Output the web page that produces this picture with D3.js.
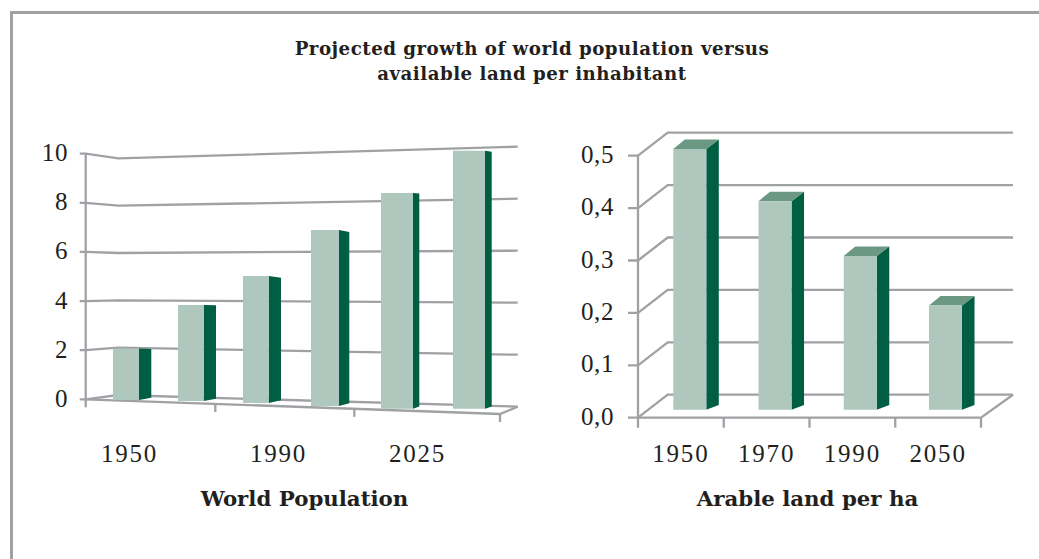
<!DOCTYPE html>
<html><head><meta charset="utf-8">
<script src="https://cdn.jsdelivr.net/npm/d3@7"></script>
<style>html,body{margin:0;padding:0;background:#fff}svg{display:block}
text{fill:#231f20}
.tick{font-family:"Liberation Serif";font-size:25px;font-weight:400;letter-spacing:1.8px}
.ytick{font-family:"Liberation Serif";font-size:25px;font-weight:400;letter-spacing:.6px}
.ttl{font-family:"DejaVu Serif";font-size:18.2px;font-weight:700;letter-spacing:.5px}
.sub{font-family:"DejaVu Serif";font-size:21.3px;font-weight:700}
</style></head><body>
<svg id="c" width="1039" height="559"></svg>
<script>
const titleLines=["Projected growth of world population versus","available land per inhabitant"];
const popBars=["1950","1970","1990","2010","2025","2050"];
const popValues=[2.08,3.84,5.04,6.93,8.43,10.0];
const popLabels=["1950","1990","2025"];
const popTicks=[0,2,4,6,8,10];
const popTitle="World Population";
const landCats=["1950","1970","1990","2050"];
const landValues=[0.5,0.4,0.295,0.2];
const landTicks=[0,0.1,0.2,0.3,0.4,0.5];
const landTitle="Arable land per ha";

const GRID="#a0a1a5",FRONT="#afc8be",SIDE="#005e43",TOP="#6a9883";
const svg=d3.select("#c");
const line=(pts,w=2.3)=>svg.append("path").attr("d",d3.line()(pts)).attr("fill","none").attr("stroke",GRID).attr("stroke-width",w);
const poly=(pts,f)=>svg.append("path").attr("d",d3.line()(pts)+"Z").attr("fill",f);
const label=(x,y,t,a,c)=>svg.append("text").attr("x",x).attr("y",y).attr("text-anchor",a).attr("class",c).text(t);

// frame
svg.append("path").attr("d","M11.5,559V12.5H1039").attr("fill","none").attr("stroke","#a0a1a5").attr("stroke-width",3);
// title
titleLines.forEach((t,i)=>label(532,55+i*25,t,"middle","ttl"));

// ---- left chart
const idx=popBars.map((_,i)=>i);
const yFront=d3.scaleLinear().domain([0,10]).range([399.3,153.7]);
const yWallL=d3.scaleLinear().domain([0,10]).range([395,158.3]);
const yWallR=d3.scaleLinear().domain([0,10]).range([406.7,146.7]);
const LX=85.7,WX=118.3,RX=517.7,FX=500;
popTicks.forEach(v=>{
  line([[LX-6,yFront(v)],[LX,yFront(v)],[WX,yWallL(v)],[RX,yWallR(v)]]);
  label(68,yFront(v)+7.5,v,"end","ytick");
});
line([[LX,yFront(10)],[LX,yFront(0)+8]]);
line([[LX,yFront(0)],[FX,414],[RX,yWallR(0)]]);
const floorY=d3.scaleLinear().domain([LX,FX]).range([399.3,414]);
const popAxis=d3.scaleLinear().domain([0,1,2,3]).range([LX,215.3,354.3,FX]);
[1,2,3].forEach(k=>{const x=popAxis(k);line([[x,floorY(x)],[x,floorY(x)+8]]);});
const barL=d3.scaleLinear().domain(idx).range([113,178,243,311,381,453]);
const barW=d3.scaleLinear().domain(idx).range([26,25.7,25.7,28,32,32]);
const barD=d3.scaleLinear().domain(idx).range([12.3,12.3,12.3,10.3,6.3,6.7]);
const barB=d3.scaleLinear().domain(idx).range([400,401,403,406,408.7,408.7]);
const unit=d3.scaleLinear().domain([0,5]).range([24.8,25.8]);
const sideT=d3.scaleLinear().domain(idx).range([.7,.3,1.7,2,.7,1]);
const sideB=d3.scaleLinear().domain(idx).range([2.3,2.3,2.7,2.7,2.3,2.3]);
popValues.forEach((v,i)=>{
  const x0=barL(i),x1=x0+barW(i),x2=x1+barD(i),b=barB(i),t=b-v*unit(i);
  poly([[x1,t],[x2,t+sideT(i)],[x2,b-sideB(i)],[x1,b]],SIDE);
  poly([[x0,t],[x1,t],[x1,b],[x0,b]],FRONT);
});
const popLabelX=d3.scaleLinear().domain([0,1,2]).range([129.5,278.5,417.5]);
popLabels.forEach((t,i)=>label(popLabelX(i),462,t,"middle","tick"));
label(304.5,505.5,popTitle,"middle","sub");

// ---- right chart
const L2=638,R2=981,DX=29.7,DY=23,BackR=1013;
const y2=d3.scaleLinear().domain([0,0.5]).range([417.7,155.7]);
landTicks.forEach(v=>{
  line([[L2-10,y2(v)],[L2,y2(v)],[L2+DX,y2(v)-DY],[BackR,y2(v)-DY]]);
  label(614,y2(v)+7,v.toFixed(1).replace(".",","),"end","ytick");
});
line([[L2,y2(.5)],[L2,y2(0)+10]]);
line([[L2,y2(0)],[R2,y2(0)],[BackR,y2(0)-DY]]);
const x2=d3.scaleLinear().domain([0,4]).range([L2,R2]);
[1,2,3,4].forEach(k=>line([[x2(k),y2(0)],[x2(k),y2(0)+10]]));
const landL=d3.scalePoint().domain(landCats).range([673.3,929]);
const landTop=d3.scaleLinear().domain([0,0.5]).range([409.7,149]);
const BW=33,SD=12.5;
landCats.forEach((c,i)=>{
  const x0=landL(c),x1=x0+BW,b=landTop(0),t=landTop(landValues[i]);
  poly([[x1,t],[x1+SD,t-9.5],[x1+SD,b-4.7],[x1,b]],SIDE);
  poly([[x0,t],[x0+SD-1,t-9.5],[x1+SD,t-9.5],[x1,t]],TOP);
  poly([[x0,t],[x1,t],[x1,b],[x0,b]],FRONT);
  label((x2(i)+x2(i+1))/2,462,c,"middle","tick");
});
label(807.5,505.5,landTitle,"middle","sub");
</script></body></html>
